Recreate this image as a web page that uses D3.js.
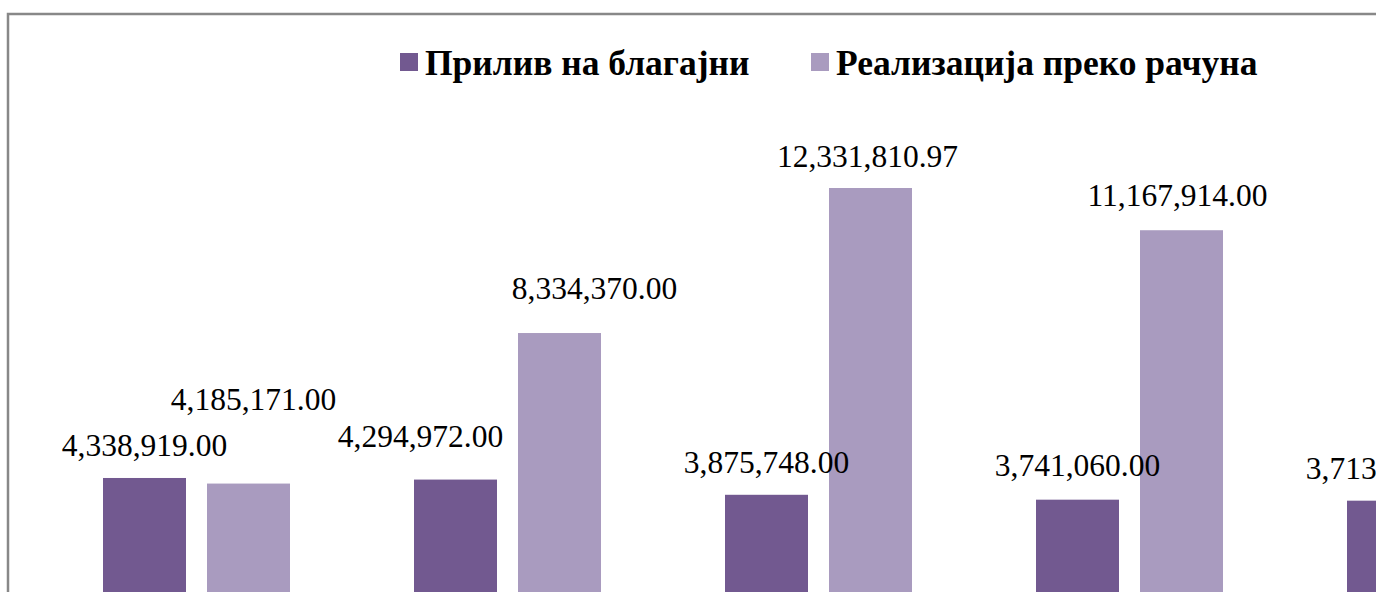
<!DOCTYPE html>
<html>
<head>
<meta charset="utf-8">
<script src="https://cdn.jsdelivr.net/npm/d3@7"></script>
<style>
  html, body { margin: 0; padding: 0; background: #fff; overflow: hidden; }
  svg { display: block; }
</style>
</head>
<body>
<svg id="chart" width="1376" height="592"></svg>
<script>
// ---- data ----
const categories = ["1", "2", "3", "4", "5"];
const seriesNames = ["Прилив на благајни", "Реализација преко рачуна"];
const blagajna = [4338919.00, 4294972.00, 3875748.00, 3741060.00, 3713420.00];
const racun = [4185171.00, 8334370.00, 12331810.97, 11167914.00, null];

// ---- layout / style ----
const colors = ["#725990", "#A99BBF"];
const labelFont = "'Liberation Serif', 'Times New Roman', serif";
// manual label nudges [series][group] (dx, extra dy)
const labelNudge = [
  [[0, 0], [-35, -11], [0, 0], [0, -2], [0, 0]],
  [[5, -52], [35, -12], [-3, 1], [-4, -2], [0, 0]]
];

const svg = d3.select("#chart");

// chart border (cropped)
svg.append("rect")
  .attr("x", 8).attr("y", 14)
  .attr("width", 2000).attr("height", 2000)
  .attr("fill", "none")
  .attr("stroke", "#888888")
  .attr("stroke-width", 2.5);

const step = 311, groupW = 187;
const x0 = d3.scaleBand()
  .domain(categories)
  .range([103 - (step - groupW) / 2, 103 - (step - groupW) / 2 + step * categories.length])
  .paddingInner((step - groupW) / step)
  .paddingOuter((step - groupW) / step / 2);

const x1 = d3.scaleBand()
  .domain(seriesNames)
  .range([0, x0.bandwidth()])
  .paddingInner(21 / 104);

const baseline = 635.4, pxPerMillion = 36.28;
const y = d3.scaleLinear()
  .domain([0, 14e6])
  .range([baseline, baseline - 14 * pxPerMillion]);

const seriesValues = [blagajna, racun];
const fmt = d3.format(",.2f");

const barLayer = svg.append("g");
const labelLayer = svg.append("g");

seriesValues.forEach((vals, si) => {
  const pts = categories.map((c, i) => ({ c, i, v: vals[i] })).filter(d => d.v != null);

  barLayer.selectAll(".bar-s" + si)
    .data(pts)
    .join("rect")
    .attr("class", "bar-s" + si)
    .attr("x", d => x0(d.c) + x1(seriesNames[si]))
    .attr("y", d => y(d.v))
    .attr("width", x1.bandwidth())
    .attr("height", d => y(0) - y(d.v))
    .attr("fill", colors[si]);

  labelLayer.selectAll(".lbl-s" + si)
    .data(pts)
    .join("text")
    .attr("class", "lbl-s" + si)
    .attr("x", d => x0(d.c) + x1(seriesNames[si]) + x1.bandwidth() / 2 + labelNudge[si][d.i][0])
    .attr("y", d => y(d.v) - 22 + labelNudge[si][d.i][1])
    .attr("text-anchor", "middle")
    .attr("font-family", labelFont)
    .attr("font-size", "31.5px")
    .attr("fill", "#000")
    .text(d => fmt(d.v));
});

// legend
const legendX = [400, 811];
const legend = svg.append("g");
seriesNames.forEach((name, si) => {
  legend.append("rect")
    .attr("x", legendX[si]).attr("y", 53)
    .attr("width", 18).attr("height", 18)
    .attr("fill", colors[si]);
  legend.append("text")
    .attr("x", legendX[si] + 25)
    .attr("y", 75)
    .attr("font-family", labelFont)
    .attr("font-weight", "bold")
    .attr("font-size", "35.5px")
    .attr("fill", "#000")
    .text(name);
});
</script>
</body>
</html>
